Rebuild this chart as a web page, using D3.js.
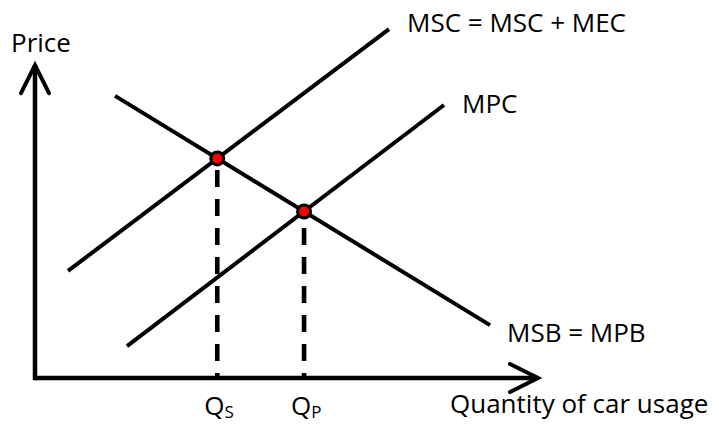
<!DOCTYPE html>
<html>
<head>
<meta charset="utf-8">
<script src="https://cdn.jsdelivr.net/npm/d3@7"></script>
<style>
  html, body { margin: 0; padding: 0; background: #fff; }
  svg { display: block; }
  text { font-family: "Open Sans", "Noto Sans", sans-serif; fill: #000; }
</style>
</head>
<body>
<svg id="chart" width="719" height="429"></svg>
<script>
// ---- data (arbitrary diagram units) ----
const curveNames = ["MSC = MSC + MEC", "MPC", "MSB = MPB"];
const curveX0 = [6.6, 18.4, 16.0];
const curveY0 = [30.6, 9.1, 80.6];
const curveX1 = [70.8, 81.8, 91.0];
const curveY1 = [99.7, 78.0, 15.1];
const axisXMax = 100.6;
const axisYMax = 89.4;
const xAxisTitle = "Quantity of car usage";
const yAxisTitle = "Price";
const qLabels = [["Q", "S"], ["Q", "P"]];   // Qs: MSC∩MSB, Qp: MPC∩MSB
const qPairs = [[0, 2], [1, 2]];

// ---- scales ----
const x = d3.scaleLinear().domain([0, 100]).range([35, 535]);
const y = d3.scaleLinear().domain([0, 100]).range([378, 28]);

const svg = d3.select("#chart");

function intersect(i, j) {
  const m1 = (curveY1[i] - curveY0[i]) / (curveX1[i] - curveX0[i]);
  const m2 = (curveY1[j] - curveY0[j]) / (curveX1[j] - curveX0[j]);
  const b1 = curveY0[i] - m1 * curveX0[i];
  const b2 = curveY0[j] - m2 * curveX0[j];
  const xi = (b2 - b1) / (m1 - m2);
  return [xi, m1 * xi + b1];
}
const points = qPairs.map(p => intersect(p[0], p[1]));

// ---- dashed drop lines ----
const dashPhaseStart = 170, dashLen = 17, gapLen = 12, period = dashLen + gapLen;
svg.selectAll("line.drop").data(points).join("line")
  .attr("class", "drop")
  .attr("x1", d => x(d[0])).attr("x2", d => x(d[0]))
  .attr("y1", d => y(d[1])).attr("y2", y(0))
  .attr("stroke", "#000").attr("stroke-width", 4.6)
  .attr("stroke-dasharray", dashLen + "," + gapLen)
  .attr("stroke-dashoffset", d => (((y(d[1]) - dashPhaseStart) % period) + period) % period);

// ---- curves ----
svg.selectAll("line.curve").data(curveNames).join("line")
  .attr("class", "curve")
  .attr("x1", (d, i) => x(curveX0[i])).attr("y1", (d, i) => y(curveY0[i]))
  .attr("x2", (d, i) => x(curveX1[i])).attr("y2", (d, i) => y(curveY1[i]))
  .attr("stroke", "#000").attr("stroke-width", 4);

// ---- axes with open arrowheads ----
const axisStroke = 4.5;
svg.append("line")
  .attr("x1", x(0)).attr("y1", y(0)).attr("x2", x(axisXMax)).attr("y2", y(0))
  .attr("stroke", "#000").attr("stroke-width", axisStroke);
svg.append("line")
  .attr("x1", x(0)).attr("y1", y(0) + axisStroke / 2).attr("x2", x(0)).attr("y2", y(axisYMax))
  .attr("stroke", "#000").attr("stroke-width", axisStroke);

const wingA = 28, wingB = 14;
// x arrow
svg.append("path")
  .attr("d", `M${x(axisXMax) - wingA},${y(0) - wingB} L${x(axisXMax)},${y(0)} L${x(axisXMax) - wingA},${y(0) + wingB}`)
  .attr("fill", "none").attr("stroke", "#000").attr("stroke-width", 4)
  .attr("stroke-linecap", "round").attr("stroke-linejoin", "miter");
// y arrow
svg.append("path")
  .attr("d", `M${x(0) - wingB},${y(axisYMax) + wingA} L${x(0)},${y(axisYMax)} L${x(0) + wingB},${y(axisYMax) + wingA}`)
  .attr("fill", "none").attr("stroke", "#000").attr("stroke-width", 4)
  .attr("stroke-linecap", "round").attr("stroke-linejoin", "miter");

// ---- intersection dots ----
svg.selectAll("circle.eq").data(points).join("circle")
  .attr("class", "eq")
  .attr("cx", d => x(d[0])).attr("cy", d => y(d[1]))
  .attr("r", 6.5)
  .attr("fill", "#ff0000").attr("stroke", "#000").attr("stroke-width", 3);

// ---- labels ----
const fs = 26;
const labelOffsets = [[18, 3], [18, 8], [17, 17]];
svg.selectAll("text.curveLabel").data(curveNames).join("text")
  .attr("class", "curveLabel")
  .attr("x", (d, i) => x(curveX1[i]) + labelOffsets[i][0])
  .attr("y", (d, i) => y(curveY1[i]) + labelOffsets[i][1])
  .attr("font-size", fs)
  .text(d => d);

svg.append("text").attr("x", 11).attr("y", 52).attr("font-size", fs).text(yAxisTitle);
svg.append("text").attr("x", 450).attr("y", 413).attr("font-size", fs).text(xAxisTitle);

svg.selectAll("text.q").data(points).join("text")
  .attr("class", "q")
  .attr("x", d => x(d[0]) - 13)
  .attr("y", 415)
  .attr("font-size", fs)
  .each(function (d, i) {
    const t = d3.select(this);
    t.append("tspan").text(qLabels[i][0]);
    t.append("tspan").attr("font-size", 17).attr("dy", 3).text(qLabels[i][1]);
  });
</script>
</body>
</html>
